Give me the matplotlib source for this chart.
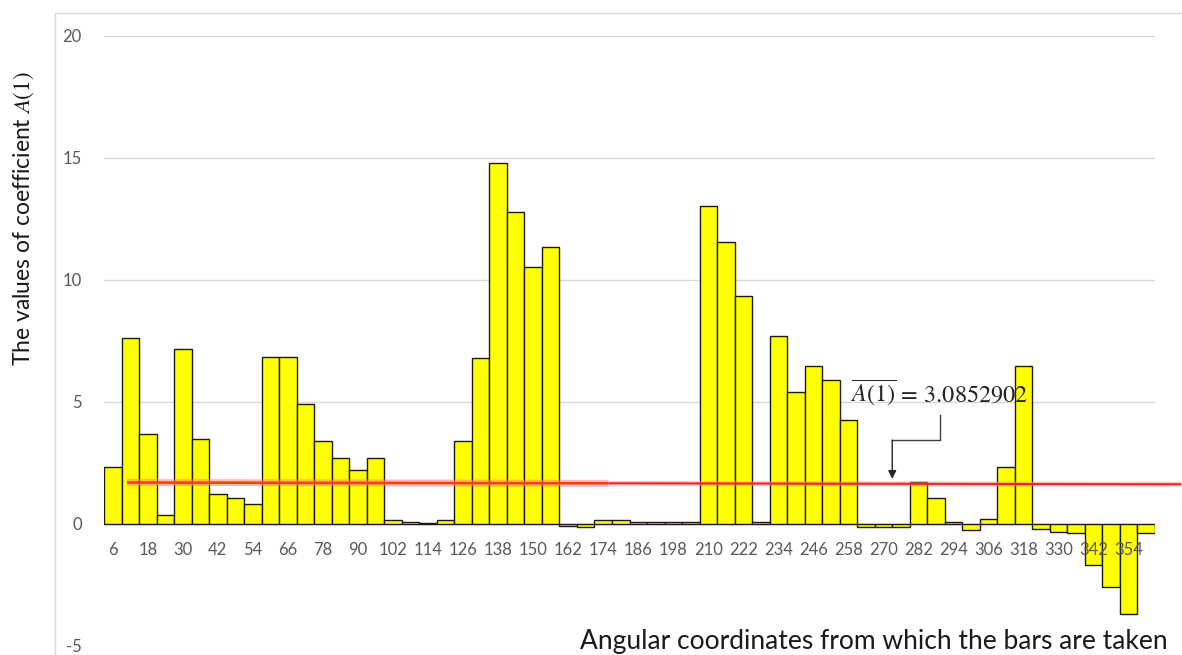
import numpy as np
import matplotlib
matplotlib.use("Agg")
import matplotlib.pyplot as plt
from matplotlib.patches import Rectangle

plt.rcParams['font.family'] = ['Lato', 'DejaVu Sans']
plt.rcParams['mathtext.fontset'] = 'stix'

# Angular coordinates (degrees) of each bar, 6-degree steps
angles = list(range(6, 361, 6))

# Values of coefficient A(1) for every angular position
values = [
    2.35, 7.61, 3.69, 0.37, 7.17, 3.48, 1.23, 1.07, 0.82, 6.83,
    6.83, 4.92, 3.39, 2.69, 2.20, 2.69, 0.16, 0.10, 0.04, 0.15,
    3.39, 6.79, 14.80, 12.80, 10.53, 11.35, -0.07, -0.12, 0.15, 0.15,
    0.08, 0.08, 0.08, 0.08, 13.02, 11.56, 9.36, 0.08, 7.70, 5.40,
    6.49, 5.90, 4.26, -0.11, -0.11, -0.11, 1.71, 1.07, 0.08, -0.25,
    0.19, 2.35, 6.49, -0.22, -0.31, -0.36, -1.69, -2.57, -3.69, -0.36,
]

# Every other angle is labelled on the axis
tick_labels = [str(a) for a in angles[::2]]

y_ticks = [-5, 0, 5, 10, 15, 20]
mean_label = r'$\overline{A(1)}\, =\, 3.0852902$'
# level of the hand-drawn red reference line (left end, right end)
ref_level = [1.70, 1.63]

fig = plt.figure(figsize=(11.82, 6.55), dpi=100)
ax = fig.add_axes([104 / 1182, 1 - 646 / 655, 1051 / 1182, 610 / 655])

x = np.arange(len(values))
ax.bar(x, values, width=1.0, color='#ffff00', edgecolor='#1a1a1a',
       linewidth=1.0, zorder=2)

ax.set_xlim(-0.5, len(values) - 0.5)
ax.set_ylim(-5, 20)

# horizontal gridlines and the zero line, all under the bars
for yv in y_ticks[1:]:
    ax.axhline(yv, color='#d9d9d9', lw=1.0, zorder=1)

# category labels sit just under zero, Excel style, drawn over the bars
ax.set_axisbelow(False)
ax.spines['bottom'].set_position(('data', 0))
for side in ['top', 'right', 'left', 'bottom']:
    ax.spines[side].set_visible(False)

ax.set_xticks(x[::2])
ax.set_xticklabels(tick_labels, fontsize=12, color='#595959')
ax.tick_params(axis='x', length=0, pad=13)
ax.set_yticks(y_ticks)
ax.set_yticklabels([str(v) for v in y_ticks], fontsize=12, color='#595959')
ax.tick_params(axis='y', length=0, pad=16)

# red reference line, soft on the left part
x0, x1 = 0.81, 61.0
xs = np.array([x0, x1])
ys = np.array(ref_level)
xm = 28.3
ym = np.interp(xm, xs, ys)
ax.plot([x0, xm], [ys[0], ym], color='#ff8080', lw=5, alpha=0.55,
        solid_capstyle='butt', zorder=4, clip_on=False)
ax.plot([x0, xm], [ys[0], ym], color='#ff4000', lw=1.8,
        solid_capstyle='butt', zorder=4, clip_on=False)
ax.plot([xm, x1], [ym, ys[1]], color='#ff9090', lw=3.5, alpha=0.5,
        solid_capstyle='butt', zorder=4, clip_on=False)
ax.plot([xm, x1], [ym, ys[1]], color='#ff1a1a', lw=1.4,
        solid_capstyle='butt', zorder=4, clip_on=False)

# mean value callout
ax.text(42.1, 5.4, mean_label, fontsize=17.5, color='#262626',
        ha='left', va='center', zorder=6)
ax.plot([47.2, 47.2, 44.5], [4.45, 3.44, 3.44], color='#404040', lw=1.0, zorder=6)
ax.annotate('', xy=(44.5, 1.85), xytext=(44.5, 3.44),
            arrowprops=dict(arrowstyle='-|>', color='#262626', lw=1.0,
                            mutation_scale=12, shrinkA=0, shrinkB=0),
            zorder=6)

ax.set_ylabel('The values of coefficient $A(1)$', fontsize=16.5, color='#1a1a1a')
ax.yaxis.set_label_coords(-68 / 1051, 0.7)
fig.text(1168 / 1182, 1 - 641 / 655,
         'Angular coordinates from which the bars are taken',
         fontsize=19, color='#1a1a1a', ha='right', va='center')

# light chart-area frame
fig.patches.append(Rectangle((55 / 1182, -0.1), 1.2, 1 - 13 / 655 + 0.1,
                             transform=fig.transFigure, fill=False,
                             edgecolor='#d9d9d9', lw=1.0, zorder=0))

fig.savefig('out.png', dpi=100, facecolor='white')
